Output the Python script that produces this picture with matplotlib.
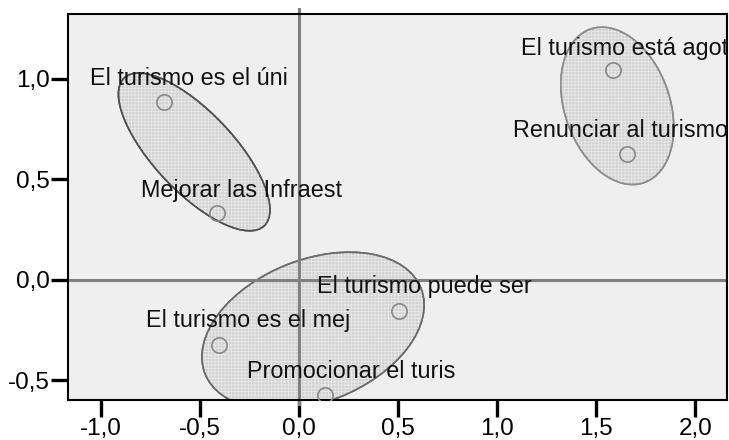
import numpy as np
import matplotlib.pyplot as plt
from matplotlib.patches import Ellipse

plt.rcParams['font.family'] = ['Liberation Sans', 'DejaVu Sans']
plt.rcParams['hatch.linewidth'] = 0.6

# point labels and coordinates (dimension 1 / dimension 2)
labels = ["El turismo es el úni", "Mejorar las Infraest", "El turismo está agot",
          "Renunciar al turismo", "El turismo puede ser", "El turismo es el mej",
          "Promocionar el turis"]
dim1 = [-0.68, -0.414, 1.586, 1.657, 0.505, -0.404, 0.131]
dim2 = [0.885, 0.333, 1.045, 0.627, -0.154, -0.323, -0.572]

# cluster ellipses
ell_cx = [-0.53, 1.606, 0.07]
ell_cy = [0.637, 0.866, -0.254]
ell_w = [1.02, 0.81, 1.17]
ell_h = [0.40, 0.53, 0.71]
ell_angle = [-46, -70, 21]

xticks = [-1.0, -0.5, 0.0, 0.5, 1.0, 1.5, 2.0]
yticks = [-0.5, 0.0, 0.5, 1.0]

# label offsets in pixels (left edge, baseline) relative to the point
label_dx = [-74, -76, -92, -114, -82, -73, -78]
label_dy = [17, 16, 15, 17, 18, 18, 17]
ell_edge = ['#505050', '#8c8c8c', '#6a6a6a']

fig = plt.figure(figsize=(7.29, 4.40), dpi=100)
ax = fig.add_axes([68 / 729, 1 - 400 / 440, (727 - 68) / 729, (400 - 14) / 440])
ax.set_facecolor('#efefef')
ax.set_xlim(-1.167, 2.16)
ax.set_ylim(-0.597, 1.323)

for cx, cy, w, h, a, ec in zip(ell_cx, ell_cy, ell_w, ell_h, ell_angle, ell_edge):
    ax.add_patch(Ellipse((cx, cy), w, h, angle=a, facecolor='#d2d2d2',
                         edgecolor=ec, linewidth=1.2, zorder=1))
    ax.add_patch(Ellipse((cx, cy), w, h, angle=a, facecolor='none',
                         edgecolor='#e9e9e9', linewidth=0, hatch='+++++', zorder=1.1))
    ax.add_patch(Ellipse((cx, cy), w, h, angle=a, facecolor='none',
                         edgecolor=ec, linewidth=1.2, zorder=1.2))

ax.axhline(0, color='#808080', lw=2.2, zorder=2)
ax.axvline(0, ymin=-0.01, ymax=1.013, color='#808080', lw=2.2, zorder=2, clip_on=False)

ax.plot(dim1, dim2, 'o', ms=11, mfc='none', mec='#888888', mew=1.2, zorder=3)

for lab, x, y, dx, dy in zip(labels, dim1, dim2, label_dx, label_dy):
    ax.annotate(lab, (x, y), xytext=(dx, dy), textcoords='offset pixels',
                ha='left', va='baseline', fontsize=16.8, color='#111111', zorder=4)

ax.set_xticks(xticks)
ax.set_yticks(yticks)
ax.set_xticklabels([f"{t:.1f}".replace('.', ',') for t in xticks])
ax.set_yticklabels([f"{t:.1f}".replace('.', ',') for t in yticks])
ax.tick_params(direction='out', length=12, width=2.4, labelsize=17.5, pad=1,
               colors='black')
for s in ax.spines.values():
    s.set_linewidth(1.5)
    s.set_color('black')

fig.savefig('out.png', dpi=100)
